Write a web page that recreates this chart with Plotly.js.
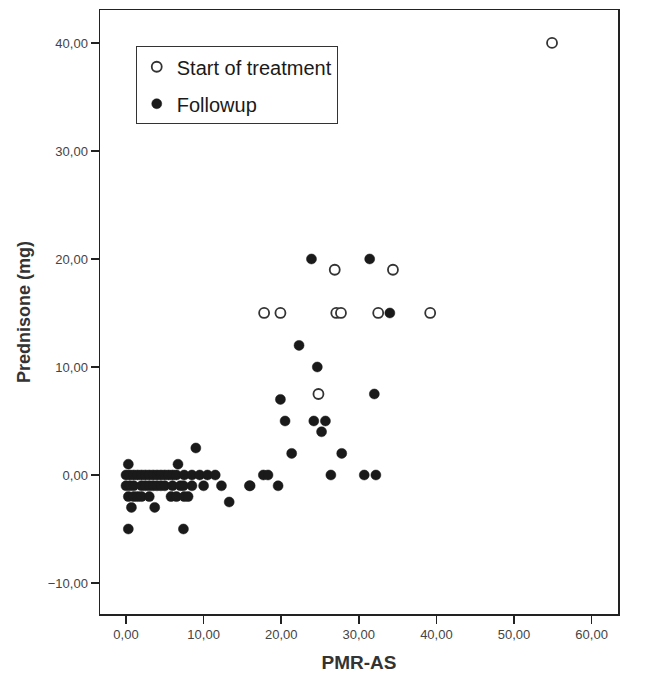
<!DOCTYPE html>
<html>
<head>
<meta charset="utf-8">
<script src="https://cdn.plot.ly/plotly-3.0.1.min.js"></script>
<style>html,body{margin:0;padding:0;background:#fff;}#chart{width:658px;height:673px;}</style>
</head>
<body>
<div id="chart"></div>
<script>
// Start of treatment (open circles)
const startX = [54.9, 26.9, 34.4, 17.8, 19.9, 27.1, 27.7, 32.5, 39.2, 24.8];
const startY = [40, 19, 19, 15, 15, 15, 15, 15, 15, 7.5];

// Followup (filled circles)
const followX = [
  23.9, 31.4, 34.0, 22.3, 24.65, 32.0, 19.9, 20.5, 24.2, 25.7, 25.2, 21.35, 27.8,
  17.7, 18.3, 26.4, 30.7, 32.2, 16.0, 19.6, 15.9, 12.3,
  0, 0.5, 1, 1.5, 2, 2.5, 3, 3.5, 4, 4.5, 5, 5.5, 6, 6.5, 7.5, 8.5, 9.5, 10.5, 11.5,
  0, 0.5, 1, 2, 2.5, 3, 3.5, 4, 4.5, 5, 6, 7, 7.4, 8.5, 10.0,
  0.3, 6.7, 9.0,
  0.3, 1, 1.5, 2, 3, 5.8, 6.5, 7.5, 8.0,
  0.7, 3.7, 13.3,
  0.3, 7.4
];
const followY = [
  20, 20, 15, 12, 10, 7.5, 7, 5, 5, 5, 4, 2, 2,
  0, 0, 0, 0, 0, -1, -1, -1, -1,
  0, 0, 0, 0, 0, 0, 0, 0, 0, 0, 0, 0, 0, 0, 0, 0, 0, 0, 0,
  -1, -1, -1, -1, -1, -1, -1, -1, -1, -1, -1, -1, -1, -1, -1,
  1, 1, 2.5,
  -2, -2, -2, -2, -2, -2, -2, -2, -2,
  -3, -3, -2.5,
  -5, -5
];

const tickVals = [-10, 0, 10, 20, 30, 40];
const xTickVals = [0, 10, 20, 30, 40, 50, 60];

const FONT = 'Liberation Sans, Arial, sans-serif';

const traces = [
  {
    x: startX, y: startY, type: 'scatter', mode: 'markers', name: 'Start of treatment',
    legendgroup: 'a',
    marker: {symbol: 'circle', size: 10, color: '#ffffff', line: {color: '#333333', width: 1.8}}
  },
  {
    x: followX, y: followY, type: 'scatter', mode: 'markers', name: 'Followup',
    legendgroup: 'b',
    marker: {symbol: 'circle', size: 10, color: '#1a1a1a', line: {color: '#1a1a1a', width: 0.5}}
  }
];

const layout = {
  width: 658, height: 673,
  margin: {l: 100, r: 40, t: 10, b: 59},
  paper_bgcolor: '#ffffff', plot_bgcolor: '#ffffff',
  separators: ',.',
  font: {family: FONT, color: '#333333', size: 13},
  showlegend: true,
  legend: {
    x: 0.069, y: 0.94, xanchor: 'left', yanchor: 'top',
    bordercolor: '#333333', borderwidth: 1, bgcolor: '#ffffff',
    font: {family: FONT, size: 20, color: '#1a1a1a'},
    traceorder: 'grouped', tracegroupgap: 8,
    itemwidth: 30, entrywidth: 220, entrywidthmode: 'pixels'
  },
  xaxis: {
    range: [-3.35, 63.4], tickvals: xTickVals, tickformat: '.2f',
    showgrid: false, zeroline: false,
    showline: true, mirror: true, linecolor: '#222222', linewidth: 1.5,
    ticks: 'outside', ticklen: 8, tickwidth: 1.5, tickcolor: '#222222',
    tickfont: {family: FONT, size: 13, color: '#444444'},
    title: {text: 'PMR-AS', font: {family: FONT, size: 19, color: '#333333', weight: 'bold'}, standoff: 14}
  },
  yaxis: {
    range: [-12.87, 43.05], tickvals: tickVals, tickformat: '.2f',
    showgrid: false, zeroline: false,
    showline: true, mirror: true, linecolor: '#222222', linewidth: 1.5,
    ticks: 'outside', ticklen: 8, tickwidth: 1.5, tickcolor: '#222222',
    tickfont: {family: FONT, size: 13, color: '#444444'},
    title: {text: 'Prednisone (mg)', font: {family: FONT, size: 18, color: '#333333', weight: 'bold'}, standoff: 12}
  }
};

Plotly.newPlot('chart', traces, layout, {displayModeBar: false, staticPlot: true});
</script>
</body>
</html>
